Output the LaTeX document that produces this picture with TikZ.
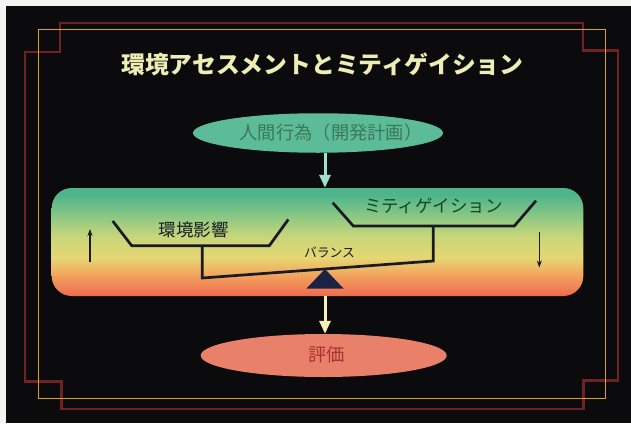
\documentclass[tikz,border=0pt]{standalone}
\usepackage{fontspec}
\newfontfamily\jp{Noto Sans CJK JP}
\usetikzlibrary{shapes.geometric,arrows.meta}
\definecolor{bg}{HTML}{0B0B0E}
\definecolor{page}{HTML}{F4F4F2}
\definecolor{framered}{HTML}{6E2222}
\definecolor{frameyel}{HTML}{D8A028}
\definecolor{titlecol}{HTML}{EEEEB4}
\definecolor{actfill}{HTML}{5DBC98}
\definecolor{acttext}{HTML}{3A7858}
\definecolor{evalfill}{HTML}{E8806A}
\definecolor{evaltext}{HTML}{A83232}
\definecolor{ink}{HTML}{181A24}
\definecolor{trit}{HTML}{1C2242}
\definecolor{uparrow}{HTML}{9FE0C6}
\definecolor{downarrow}{HTML}{F6F0B8}
\definecolor{cA}{HTML}{4DB48C}
\definecolor{cB}{HTML}{7EC486}
\definecolor{cC}{HTML}{C6D67A}
\definecolor{cD}{HTML}{E6D672}
\definecolor{cE}{HTML}{F2A45E}
\definecolor{cF}{HTML}{EE6A50}
\pgfdeclareverticalshading{boxshade}{100bp}{color(0bp)=(cF); color(25bp)=(cF); color(34.7bp)=(cE); color(42.6bp)=(cD); color(53bp)=(cC); color(64bp)=(cB); color(72bp)=(cA); color(75bp)=(cA); color(100bp)=(cA)}
\tikzset{
  jpt/.style={font=\jp, inner sep=0pt},
  oval/.style={ellipse, inner sep=0pt, draw=none},
  trayline/.style={draw=ink, line width=2.7pt, line join=miter},
  smallarrow/.style={draw=ink, line width=1.1pt, -{Stealth[length=7pt,width=5pt]}},
  bigarrow/.style={line width=3pt, -{Triangle[length=13pt,width=11pt]}},
}
\begin{document}
\begin{tikzpicture}[x=1pt,y=-1pt]
\useasboundingbox (0,0) rectangle (631,423);
\fill[page] (0,0) rectangle (631,423);
\fill[bg] (6,6) rectangle (631,423);
% frames
\draw[framered, line width=2.4pt] (60,22.7) -- (583,22.7) -- (583,50.5) -- (618,50.5) -- (618,380.5) -- (583.5,380.5) -- (583.5,408.8) -- (61.3,408.8) -- (61.3,381.5) -- (25,381.5) -- (25,52) -- (60,52) -- cycle;
\draw[frameyel, line width=1.2pt] (38.7,29.8) rectangle (605.6,398.3);
% title
\node[jpt, text=titlecol, font=\jp\bfseries\fontsize{23.8}{26}\selectfont] (title) at (322.4,64) {環境アセスメントとミティゲイション};
% top ellipse
\node[oval, fill=actfill, minimum width=250, minimum height=39.5] (act) at (318,133) {};
\node[jpt, text=acttext, font=\jp\fontsize{18.3}{20}\selectfont] (actlabel) at (331,132.5) {人間行為（開発計画）};
% box
\node[shading=boxshade, rounded corners=20pt, minimum width=531.6, minimum height=108, inner sep=0pt] (box) at (317.5,242) {};
% bottom ellipse
\node[oval, fill=evalfill, minimum width=246, minimum height=43] (eval) at (323.7,355.5) {};
\node[jpt, text=evaltext, font=\jp\fontsize{18.3}{20}\selectfont] (evallabel) at (326.7,355) {評価};
% balance
\coordinate (apex) at (325,269);
\coordinate (lt1) at (112.7,221);
\coordinate (lt2) at (131.7,245.7);
\coordinate (lt3) at (269.3,245.7);
\coordinate (lt4) at (288.3,219.5);
\coordinate (rt1) at (332.7,202.7);
\coordinate (rt2) at (353.3,226);
\coordinate (rt3) at (514.3,226);
\coordinate (rt4) at (536,200.7);
\coordinate (lstem) at (202.3,245.7);
\coordinate (lend) at (202.3,278);
\coordinate (rstem) at (433.3,226);
\coordinate (rend) at (433.3,261);
\draw[trayline] (lt1) -- (lt2) -- (lt3) -- (lt4);
\draw[trayline] (rt1) -- (rt2) -- (rt3) -- (rt4);
\draw[trayline] (lstem) -- (lend) -- (rend) -- (rstem);
\fill[trit] (apex) -- (343.5,288.5) -- (306.5,288.5) -- cycle;
\node[jpt, text=ink, font=\jp\fontsize{17.5}{19}\selectfont] (impact) at (193.5,229.5) {環境影響};
\node[jpt, text=ink!80!green, font=\jp\fontsize{17.5}{19}\selectfont] (miti) at (433.3,205.5) {ミティゲイション};
\node[jpt, text=ink, font=\jp\fontsize{12.8}{14}\selectfont] (bal) at (329.5,253) {バランス};
% side arrows
\coordinate (ua1) at (90,262);
\coordinate (ua2) at (90,229);
\coordinate (da1) at (539.3,231.7);
\coordinate (da2) at (539.3,267.5);
\draw[smallarrow] (ua1) -- (ua2);
\draw[smallarrow] (da1) -- (da2);
% main arrows
\draw[bigarrow, draw=uparrow, color=uparrow] (apex |- act.south) -- (apex |- box.north);
\draw[bigarrow, draw=downarrow, color=downarrow] (apex |- box.south) -- (apex |- eval.north);
\end{tikzpicture}
\end{document}
